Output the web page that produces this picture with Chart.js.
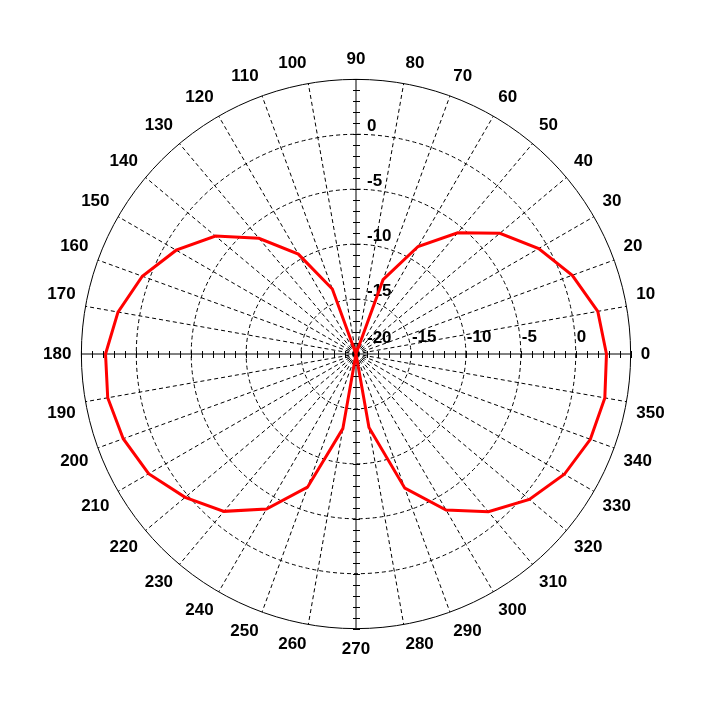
<!DOCTYPE html>
<html>
<head>
<meta charset="utf-8">
<script src="https://cdn.jsdelivr.net/npm/chart.js@4.4.1/dist/chart.umd.min.js"></script>
<style>
    html, body { margin: 0; padding: 0; background: #fff; }
    canvas { display: block; }
</style>
</head>
<body>
<canvas id="polar-chart" width="709" height="709"></canvas>
<script>
// Pattern data, angle in degrees (counterclockwise from the right), gain in dB
const angles = [0, 10, 20, 30, 40, 50, 60, 70, 80, 90, 100, 110, 120, 130, 140, 150, 160, 170,
    180, 190, 200, 210, 220, 230, 240, 250, 260, 270, 280, 290, 300, 310, 320, 330, 340, 350];
const gainDb = [2.8, 2.35, 0.95, -0.8, -2.9, -5.6, -8.7, -12.8, -20, -20, -20, -13.7, -9.5, -6.25, -3.3, -1.1, 0.7, 2.0,
    2.8, 2.95, 2.55, 1.8, 0.3, -1.3, -3.7, -7.1, -13.1, -20, -13.2, -7.0, -3.6, -1.25, 0.6, 1.9, 2.7, 3.0];
const radialTicks = [-20, -15, -10, -5, 0];
const radialMin = -20;
const radialMax = 5;

const FONT = '"Liberation Sans", Arial, sans-serif';

// radar scale starts at the top and runs clockwise, so reorder from 90 going down
function toRadarOrder(values) {
    const step = 360 / angles.length;
    const out = [];
    for (let i = 0; i < angles.length; i++) {
        const a = ((90 - step * i) % 360 + 360) % 360;
        out.push(values[angles.indexOf(a)]);
    }
    return out;
}

const radarLabels = toRadarOrder(angles).map(String);
const radarGain = toRadarOrder(gainDb);
const axisLabels = ['0', '90', '180', '270'];

// Minor ticks on the main axes plus the dB labels
const axisTicksPlugin = {
    id: 'axisTicks',
    beforeDatasetsDraw(chart) {
        const r = chart.scales.r;
        const ctx = chart.ctx;
        const xc = r.xCenter, yc = r.yCenter;
        ctx.save();
        ctx.strokeStyle = '#000';
        ctx.lineWidth = 1;
        ctx.beginPath();
        for (let v = r.min + 1; v <= r.max; v++) {
            const d = r.getDistanceFromCenterForValue(v);
            [xc + d, xc - d].forEach(x => {
                const px = Math.round(x) + 0.5;
                ctx.moveTo(px, yc - 3);
                ctx.lineTo(px, yc + 4);
            });
            [yc + d, yc - d].forEach(y => {
                const py = Math.round(y) + 0.5;
                ctx.moveTo(xc - 3, py);
                ctx.lineTo(xc + 4, py);
            });
        }
        ctx.stroke();

        ctx.fillStyle = '#000';
        ctx.font = 'bold 17px ' + FONT;
        ctx.textAlign = 'left';
        ctx.textBaseline = 'middle';
        radialTicks.forEach(v => {
            const d = r.getDistanceFromCenterForValue(v);
            if (v === radialMin) {
                ctx.fillText(String(v), xc + 11, yc - 16);
                return;
            }
            // along the 90 degree axis
            ctx.fillText(String(v), xc + 11, yc - d - 8);
            // along the 0 degree axis
            ctx.fillText(String(v), xc + d + 1, yc - 17);
        });
        ctx.restore();
    }
};

const chart = new Chart(document.getElementById('polar-chart').getContext('2d'), {
    type: 'radar',
    data: {
        labels: radarLabels,
        datasets: [{
            label: 'Gain',
            data: radarGain,
            borderColor: '#ff0000',
            borderWidth: 3,
            pointRadius: 0,
            fill: false,
            tension: 0
        }]
    },
    options: {
        responsive: false,
        animation: false,
        layout: { padding: 41 },
        plugins: {
            legend: { display: false },
            tooltip: { enabled: false }
        },
        scales: {
            r: {
                min: radialMin,
                max: radialMax,
                ticks: { stepSize: 5, display: false },
                grid: { circular: true, color: '#000', lineWidth: 1 },
                border: {
                    dash: (ctx) => (ctx.tick && ctx.tick.value === radialMax) ? [] : [4, 3]
                },
                angleLines: {
                    color: '#000',
                    lineWidth: 1,
                    borderDash: (ctx) => axisLabels.includes(ctx.label) ? [] : [4, 3]
                },
                pointLabels: {
                    padding: 10,
                    color: '#000',
                    font: { family: FONT, size: 17, weight: 'bold' }
                }
            }
        }
    },
    plugins: [axisTicksPlugin]
});
</script>
</body>
</html>
